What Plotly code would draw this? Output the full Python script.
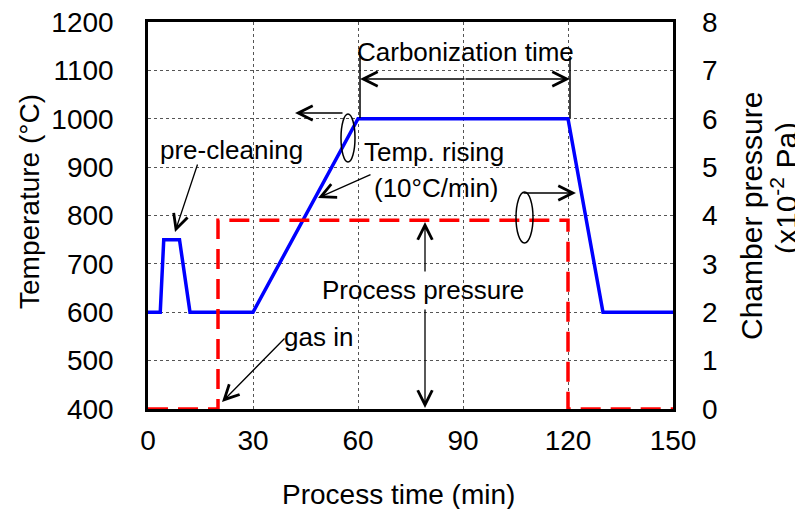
import plotly.graph_objects as go

# ---- data ----
temp_time = [0, 3.5, 4.5, 9, 12, 30, 60, 120, 130, 150]
temp_vals = [600, 600, 750, 750, 600, 600, 1000, 1000, 600, 600]
pres_time = [0, 20, 20, 120, 120, 150]
pres_vals = [0, 0, 3.9, 3.9, 0, 0]
x_ticks = [0, 30, 60, 90, 120, 150]
y_ticks = [400, 500, 600, 700, 800, 900, 1000, 1100, 1200]
y2_ticks = [0, 1, 2, 3, 4, 5, 6, 7, 8]

FONT = "Liberation Sans, Arial, sans-serif"
OFF = 8  # default page body margin
W, H = 803 - OFF, 517 - 2 * OFF
PL, PR, PT, PB = 148, 673, 22, 409  # plot box in screen pixels
L, T = PL - OFF, PT - OFF
R = W - (PR - OFF)
B = H - (PB - OFF)

fig = go.Figure()
fig.add_trace(go.Scatter(x=pres_time, y=pres_vals, yaxis="y2", mode="lines",
                         line=dict(color="#ff0000", width=3.5, dash="20px,10px"),
                         showlegend=False))
fig.add_trace(go.Scatter(x=temp_time, y=temp_vals, mode="lines",
                         line=dict(color="#0000ff", width=3.5), showlegend=False))

# screen pixel -> data / paper helpers for annotation placement
def dx(px):
    return (px - PL) / (PR - PL) * 150

def dy(py):
    return 400 + (PB - py) / (PB - PT) * 800

def px_(px):
    return (px - PL) / (PR - PL)

def py_(py):
    return (PB - py) / (PB - PT)

anns = []
def arrow(hx, hy, tx, ty):
    anns.append(dict(x=dx(hx), y=dy(hy), ax=dx(tx), ay=dy(ty), xref="x", yref="y",
                     axref="x", ayref="y", showarrow=True, arrowhead=5, arrowsize=2.2,
                     arrowwidth=1.3, arrowcolor="black", text=""))

def label(px, py, text, size=26):
    anns.append(dict(x=dx(px), y=dy(py), xref="x", yref="y", text=text, showarrow=False,
                     xanchor="center", yanchor="middle",
                     font=dict(family=FONT, size=size, color="black")))

label(231, 150, "pre-cleaning")
arrow(175, 232, 198, 163)
label(318, 337, "gas in")
arrow(222, 402, 286, 337)
label(434, 152, "Temp. rising")
label(436, 188, "(10°C/min)")
arrow(318, 198, 372, 174)
label(465, 52, "Carbonization time")
arrow(360, 79, 466, 79)
arrow(570, 79, 464, 79)
label(423, 290, "Process pressure")
arrow(425, 222, 425, 273)
arrow(425, 408, 425, 308)
arrow(295, 113, 344, 113)
arrow(576, 193, 522, 193)

shapes = [
    dict(type="line", xref="x", yref="y", x0=dx(360), x1=dx(360), y0=dy(56), y1=dy(118),
         line=dict(color="black", width=1.5)),
    dict(type="line", xref="x", yref="y", x0=dx(570), x1=dx(570), y0=dy(56), y1=dy(118),
         line=dict(color="black", width=1.5)),
    dict(type="circle", xref="x", yref="y", x0=dx(341), x1=dx(355), y0=dy(114), y1=dy(162),
         line=dict(color="black", width=1.5)),
    dict(type="circle", xref="x", yref="y", x0=dx(516), x1=dx(533), y0=dy(192), y1=dy(243),
         line=dict(color="black", width=1.5)),
]

# axis titles (paper coordinates, outside the plot area)
def title(px, py, text, angle=0, size=28):
    anns.append(dict(x=px_(px), y=py_(py), xref="paper", yref="paper", text=text,
                     showarrow=False, textangle=angle, xanchor="center", yanchor="middle",
                     font=dict(family=FONT, size=size, color="black")))

title(29, 202, "Temperature (°C)", -90)
title(752, 216, "Chamber pressure", -90, 30)
title(784, 188, "(x10<sup>-2</sup> Pa)", -90, 30)
title(398, 494, "Process time (min)")

grid = dict(showgrid=True, gridcolor="#555555", gridwidth=1, griddash="3px,3px")
common = dict(zeroline=False, ticks="", automargin=False, ticklabeloverflow="allow",
              tickfont=dict(family=FONT, size=28, color="black"))
fig.update_layout(
    width=W, height=H, margin=dict(l=L, r=R, t=T, b=B, autoexpand=False),
    plot_bgcolor="white", paper_bgcolor="white",
    font=dict(family=FONT, size=26, color="black"),
    xaxis=dict(range=[0, 150], tickvals=x_ticks, showline=True, linecolor="black",
               linewidth=2.5, mirror=True, ticklabelstandoff=5, **grid, **common),
    yaxis=dict(range=[400, 1200], tickvals=y_ticks, showline=True, linecolor="black",
               linewidth=2.5, mirror=True, ticklabelstandoff=26, **grid, **common),
    yaxis2=dict(range=[0, 8], tickvals=y2_ticks, overlaying="y", side="right",
                showgrid=False, ticklabelstandoff=28, **common),
    annotations=anns, shapes=shapes,
)
fig.write_html("out.html")
